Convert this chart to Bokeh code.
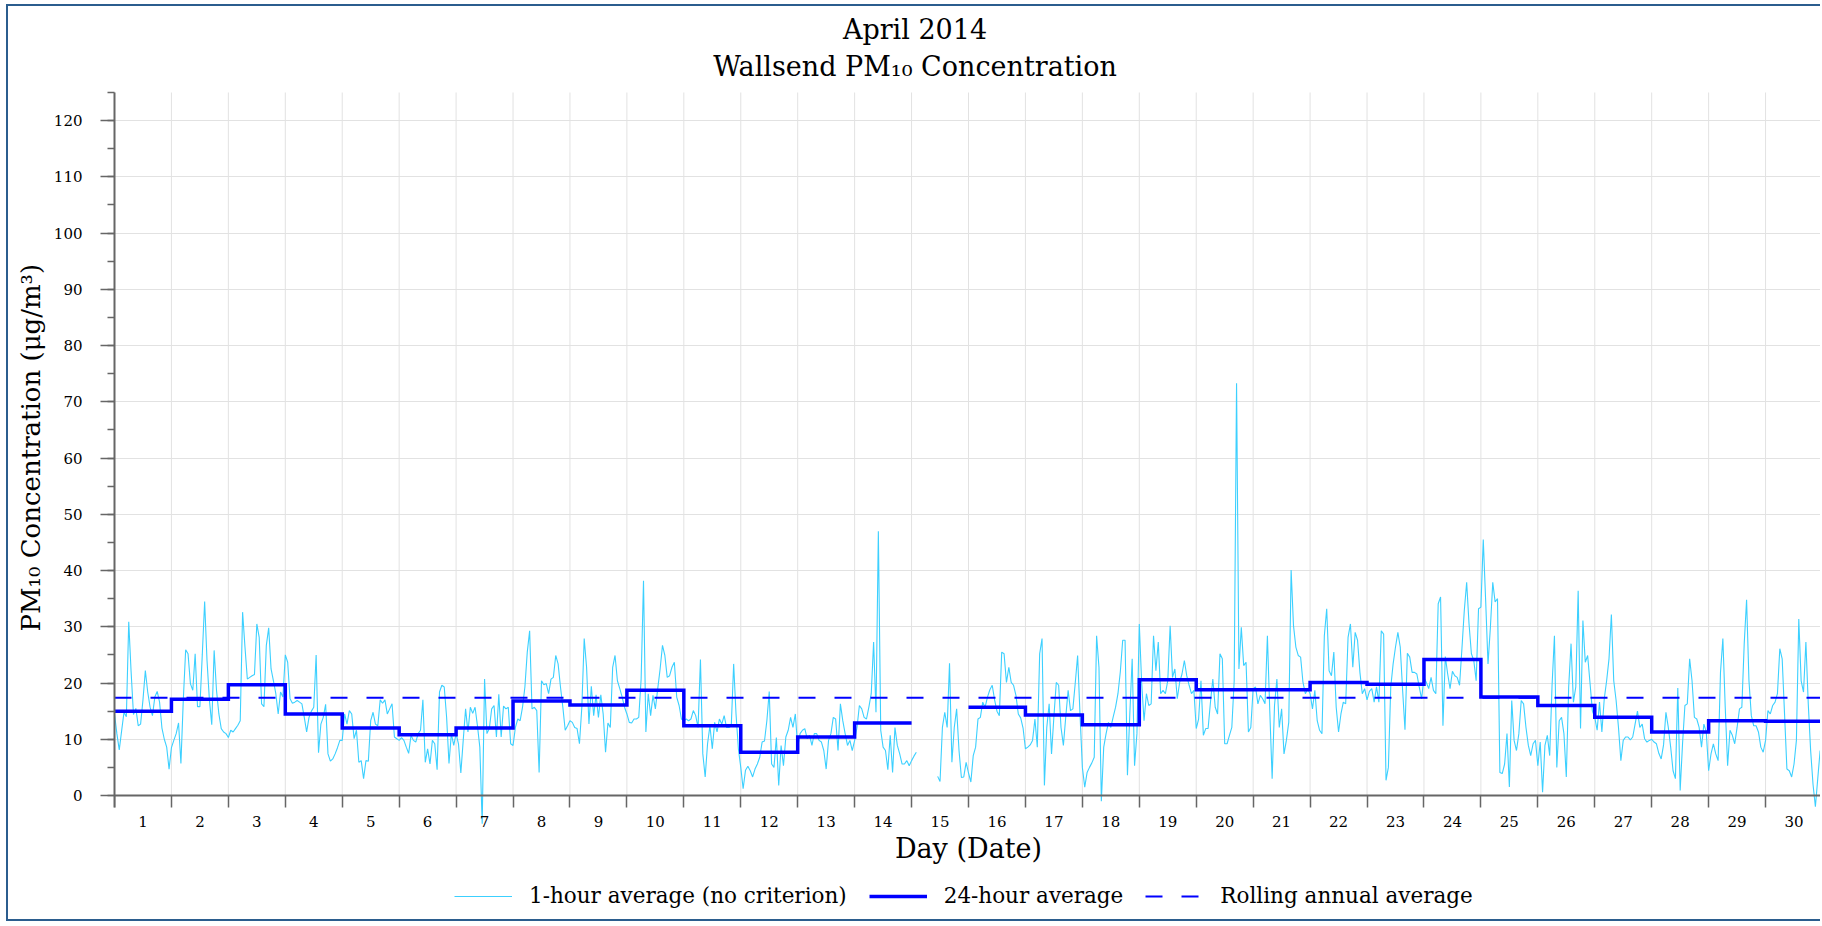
import numpy as np
from bokeh.plotting import figure
from bokeh.models import (ColumnDataSource, FixedTicker, SingleIntervalTicker, Range1d,
                          Title, Legend, LegendItem, CustomJSTickFormatter, LinearAxis, Label)
from bokeh.embed import file_html
from bokeh.resources import INLINE

NaN = float("nan")

# ---------------- data ----------------
day_labels = [str(d) for d in range(1, 31)]

d01 = [14.5, 11.0, 8.1, 11.5, 14.8, 14.0, 30.9, 22.0, 14.4, 15.5, 12.4, 12.7, 17.0, 22.2, 18.4, 15.7, 14.2, 17.5, 18.5, 16.6, 12.0, 10.0, 8.6, 4.7]
d02 = [8.5, 9.8, 11.0, 12.9, 5.7, 17.0, 25.9, 25.2, 19.9, 18.7, 25.2, 15.8, 15.8, 25.0, 34.5, 24.0, 17.0, 12.6, 25.8, 18.7, 14.5, 11.9, 11.3, 11.0]
d03 = [10.3, 11.6, 11.3, 11.9, 12.5, 13.3, 32.6, 26.4, 20.7, 21.0, 21.3, 21.5, 30.5, 28.1, 16.3, 15.8, 26.7, 29.8, 22.5, 20.4, 18.1, 14.5, 18.4, 17.5]
d04 = [25.0, 23.7, 17.2, 16.4, 16.6, 16.9, 16.6, 16.3, 13.9, 11.3, 13.9, 15.0, 15.7, 25.0, 7.6, 12.7, 13.9, 16.2, 7.4, 6.1, 6.5, 7.4, 8.5, 9.8]
d05 = [9.8, 14.5, 12.7, 15.1, 14.5, 10.1, 11.6, 5.9, 6.2, 3.0, 6.2, 6.1, 13.3, 14.8, 12.7, 12.4, 17.0, 16.4, 17.0, 14.5, 15.4, 16.3, 10.4, 10.1]
d06 = [9.8, 10.3, 9.8, 8.6, 7.5, 10.7, 9.8, 9.5, 11.0, 11.6, 17.0, 5.9, 8.3, 5.6, 9.8, 9.2, 4.6, 18.4, 19.6, 19.3, 13.9, 5.7, 11.0, 8.9]
d07 = [11.0, 9.2, 4.0, 9.8, 15.4, 11.3, 15.7, 14.6, 15.7, 12.4, 8.6, -5.0, 20.7, 11.0, 11.9, 15.4, 16.0, 10.4, 18.0, 10.4, 15.9, 15.4, 15.7, 9.2]
d08 = [8.9, 12.1, 13.6, 13.3, 15.7, 19.3, 25.5, 29.3, 15.4, 15.7, 15.1, 4.1, 20.4, 19.7, 19.9, 18.1, 20.7, 21.0, 24.9, 23.4, 19.3, 15.7, 11.6, 12.4]
d09 = [13.3, 13.0, 12.1, 11.9, 9.2, 15.7, 27.9, 22.8, 12.7, 19.4, 14.2, 17.9, 13.9, 17.9, 14.5, 7.7, 12.9, 12.1, 22.8, 24.9, 20.4, 19.0, 17.5, 15.7]
d10 = [14.5, 13.0, 12.9, 13.6, 13.6, 13.9, 20.7, 38.2, 11.3, 18.1, 14.2, 17.8, 15.4, 19.0, 22.5, 26.7, 24.9, 21.0, 21.3, 22.8, 23.7, 17.5, 16.0, 13.6]
d11 = [13.3, 13.6, 13.3, 13.6, 15.1, 14.2, 12.1, 24.2, 7.4, 3.3, 9.2, 12.4, 8.3, 13.0, 11.3, 13.6, 12.7, 14.2, 12.1, 12.1, 12.4, 23.4, 14.5, 8.3]
d12 = [5.0, 1.2, 4.5, 5.2, 4.4, 3.3, 4.7, 5.6, 6.8, 9.5, 9.7, 13.3, 18.5, 5.6, 5.0, 10.3, 1.8, 8.9, 5.3, 10.4, 11.6, 13.9, 12.1, 14.5]
d13 = [8.6, 11.0, 11.6, 11.9, 10.1, 10.7, 8.9, 11.0, 11.0, 9.8, 9.5, 8.0, 4.7, 9.8, 11.0, 13.9, 13.6, 8.0, 16.3, 13.3, 11.0, 8.9, 9.8, 8.0]
d14 = [9.8, 12.1, 16.0, 15.4, 13.9, 13.6, 15.7, 18.1, 27.3, 14.8, 47.0, 11.6, 8.6, 8.0, 4.6, 10.7, 4.1, 12.1, 8.9, 7.4, 5.6, 5.6, 6.2, 5.3]
d15 = [6.2, 7.0, 7.7, NaN, NaN, NaN, NaN, NaN, NaN, NaN, NaN, 3.4, 2.5, 12.1, 14.8, 12.1, 23.5, 5.9, 12.1, 15.4, 8.0, 3.2, 3.3, 5.9]
d16 = [4.0, 2.4, 7.1, 8.6, 13.6, 13.9, 16.6, 15.7, 17.5, 18.8, 19.6, 17.0, 15.0, 14.2, 25.5, 25.2, 20.1, 22.8, 20.1, 19.6, 17.8, 14.5, 13.8, 12.0]
d17 = [8.3, 8.6, 9.0, 9.8, 13.6, 8.6, 25.2, 27.9, 1.8, 12.1, 16.3, 7.4, 14.0, 20.1, 19.6, 12.1, 8.9, 14.0, 18.7, 15.1, 15.4, 20.0, 24.9, 14.5]
d18 = [5.0, 1.5, 4.1, 5.0, 5.8, 6.8, 28.4, 22.8, -1.0, 8.6, 11.0, 13.0, 12.1, 14.0, 15.7, 18.1, 22.0, 27.6, 27.6, 3.6, 14.5, 24.3, 5.3, 11.0]
d19 = [30.5, 20.0, 13.3, 18.1, 16.0, 16.3, 28.4, 22.2, 27.3, 18.1, 18.7, 18.1, 20.4, 30.2, 21.0, 22.5, 17.2, 20.1, 21.6, 24.0, 21.3, 19.6, 18.1, 18.7]
d20 = [11.9, 13.6, 20.4, 10.7, 11.9, 11.9, 16.6, 20.7, 15.7, 14.5, 25.2, 24.3, 9.2, 9.2, 10.7, 12.1, 20.4, 73.3, 22.5, 29.9, 23.1, 23.7, 11.3, 12.1]
d21 = [19.0, 19.3, 16.3, 17.8, 17.2, 16.3, 28.4, 15.1, 3.0, 16.0, 20.7, 12.1, 15.4, 7.4, 9.8, 13.0, 40.1, 30.2, 26.4, 24.9, 24.6, 20.1, 18.1, 19.0]
d22 = [18.1, 15.4, 18.7, 13.3, 11.6, 11.0, 28.4, 33.2, 22.2, 21.3, 25.5, 15.7, 11.3, 14.5, 16.6, 16.3, 28.1, 30.5, 22.8, 29.0, 27.6, 21.9, 18.1, 19.0]
d23 = [17.0, 18.5, 19.0, 16.6, 19.3, 16.6, 29.3, 28.7, 2.7, 5.0, 19.3, 23.4, 26.4, 29.0, 26.4, 18.7, 11.7, 25.3, 24.6, 21.9, 21.9, 21.6, 19.3, 17.2]
d24 = [21.0, 20.1, 19.0, 21.0, 18.7, 18.1, 34.1, 35.3, 12.4, 24.7, 21.6, 19.0, 22.1, 21.3, 21.0, 19.6, 26.1, 32.9, 37.9, 30.5, 25.2, 24.0, 20.4, 33.2]
d25 = [33.5, 45.5, 34.7, 23.4, 29.9, 37.9, 34.4, 35.0, 4.1, 3.9, 5.6, 11.0, 1.5, 16.9, 9.8, 8.0, 11.0, 16.9, 16.3, 12.1, 8.9, 7.1, 9.2, 9.8]
d26 = [5.3, 9.5, 0.6, 8.9, 10.7, 7.1, 19.6, 28.4, 5.0, 13.3, 13.9, 11.0, 3.3, 19.3, 27.0, 16.6, 19.3, 36.4, 11.9, 31.1, 23.7, 24.9, 20.0, 15.0]
d27 = [13.9, 11.6, 16.6, 11.3, 17.2, 20.4, 24.3, 32.2, 20.4, 16.9, 12.1, 6.2, 9.8, 10.4, 10.4, 9.9, 10.4, 12.7, 15.0, 12.1, 12.7, 10.1, 9.5, 9.8]
d28 = [10.0, 9.5, 9.2, 7.5, 6.5, 9.0, 14.8, 12.1, 8.6, 4.4, 3.0, 19.1, 0.9, 9.2, 16.0, 16.3, 24.3, 20.4, 13.9, 13.6, 12.1, 8.6, 12.7, 11.3]
d29 = [4.4, 7.4, 9.2, 7.4, 6.2, 21.9, 27.9, 15.7, 5.3, 11.6, 10.7, 9.2, 12.1, 15.4, 15.7, 27.0, 34.8, 20.4, 14.2, 12.4, 12.4, 11.3, 8.6, 7.7]
d30 = [9.8, 15.1, 14.5, 16.0, 16.6, 18.1, 26.1, 24.3, 14.5, 4.7, 4.4, 3.3, 5.6, 9.8, 31.4, 20.4, 18.4, 27.3, 16.3, 8.0, 2.0, -2.0, 3.0, 8.0]

avg24 = [15.0, 17.1, 19.7, 14.5, 12.0, 10.8, 12.0, 16.8, 16.1, 18.7,
         12.4, 7.7, 10.4, 12.9, NaN, 15.7, 14.3, 12.6, 20.6, 18.8,
         18.8, 20.1, 19.8, 24.2, 17.5, 16.0, 13.9, 11.3, 13.3, 13.2]

rolling_annual = 17.4

y_axis_top = 125
y_tick_step = 10

title_line1 = "April 2014"
title_line2 = "Wallsend PM\u2081\u2080 Concentration"
y_title = "PM\u2081\u2080 Concentration (\u03bcg/m\u00b3)"
x_title = "Day (Date)"

# ---------------- build sources ----------------
days = [d01, d02, d03, d04, d05, d06, d07, d08, d09, d10, d11, d12, d13, d14, d15,
        d16, d17, d18, d19, d20, d21, d22, d23, d24, d25, d26, d27, d28, d29, d30]
n_days = len(day_labels)
hx, hy = [], []
for di, vals in enumerate(days):
    for h, v in enumerate(vals):
        hx.append(di + h / 24.0)
        hy.append(v)
hourly_src = ColumnDataSource(dict(x=hx, y=hy))

sx, sy = [], []
for di, v in enumerate(avg24):
    sx += [di, di + 1]
    sy += [v, v]
step_src = ColumnDataSource(dict(x=sx, y=sy))

roll_src = ColumnDataSource(dict(x=[0, n_days], y=[rolling_annual, rolling_annual]))

vgrid_src = ColumnDataSource(dict(x=list(range(n_days + 1)),
                                  y0=[0] * (n_days + 1),
                                  y1=[y_axis_top] * (n_days + 1)))

# ---------------- layout (pixels, content box starts at page (8, 6)) ----------------
FONT = "DejaVu Serif"
AXIS_COLOR = "#666666"
GRID_COLOR = "#e2e2e2"
BORDER = "2px solid #2b5d8e"

W, H = 1814, 917
LEFT, BOTTOM = 105, 4
frame_bottom = H - BOTTOM     # frame spans the full content height above this
top_px = 86                   # where y = 125 sits
zero_px = 789                 # where y = 0 sits
ppu = (zero_px - top_px) / y_axis_top
y_end = y_axis_top + top_px / ppu
y_start = -(frame_bottom - zero_px) / ppu


def y_at(px):
    return y_end - px / ppu


frame_w = W - LEFT
title_cx = (906 - LEFT) * n_days / frame_w   # title centred on the whole chart

p = figure(width=W, height=H, title=None,
           x_range=Range1d(0, n_days), y_range=Range1d(y_start, y_end),
           x_axis_location=None,
           output_backend="svg", toolbar_location=None,
           min_border_left=LEFT, min_border_right=0, min_border_top=0,
           min_border_bottom=BOTTOM)
p.styles = {"margin-left": "6px", "margin-top": "4px",
            "border-left": BORDER, "border-top": BORDER, "border-bottom": BORDER}
p.outline_line_color = None
p.background_fill_color = "white"
p.border_fill_color = "white"

for txt, base_px in ((title_line1, 23), (title_line2, 60)):
    p.add_layout(Label(x=title_cx, y=y_at(base_px), text=txt,
                       text_align="center", text_baseline="alphabetic",
                       text_font=FONT, text_font_size="27px", text_color="black"))

# vertical grid lines at day boundaries (0 .. top of axis only)
p.segment(x0="x", y0="y0", x1="x", y1="y1", source=vgrid_src,
          line_color=GRID_COLOR, line_width=1, level="underlay")

r_hour = p.line("x", "y", source=hourly_src, line_color="#3cd0ff", line_width=1.1)
r_roll = p.line("x", "y", source=roll_src, line_color="#0000ff", line_width=2,
                line_dash="17 19")
r_avg = p.line("x", "y", source=step_src, line_color="#0000ff", line_width=3.5,
               line_join="miter")

# x axis fixed at y = 0: labels centred in each day, ticks at day boundaries
xax = LinearAxis(fixed_location=0)
p.add_layout(xax, "below")
xax.ticker = FixedTicker(ticks=[i + 0.5 for i in range(n_days)],
                         minor_ticks=list(range(n_days + 1)))
xax.formatter = CustomJSTickFormatter(args=dict(labels=day_labels),
                                      code="return labels[Math.round(tick - 0.5)]")
xax.major_tick_out = 0
xax.major_tick_in = 0
xax.minor_tick_out = 12
xax.minor_tick_in = 0
xax.major_label_standoff = 8
xax.axis_label = x_title
xax.axis_label_standoff = 3

yax = p.yaxis[0]
yax.bounds = (-12 / ppu, y_axis_top)
yax.ticker = SingleIntervalTicker(interval=y_tick_step, num_minor_ticks=2)
yax.major_tick_out = 14
yax.major_tick_in = 0
yax.minor_tick_out = 7
yax.minor_tick_in = 0
yax.major_label_standoff = 18

for ax in (xax, yax):
    ax.axis_line_color = AXIS_COLOR
    ax.axis_line_width = 2
    ax.major_tick_line_color = AXIS_COLOR
    ax.minor_tick_line_color = AXIS_COLOR
    ax.major_tick_line_width = 1.5
    ax.minor_tick_line_width = 1.5
    ax.major_label_text_font = FONT
    ax.major_label_text_font_size = "15px"
    ax.major_label_text_color = "black"
    ax.axis_label_text_font = FONT
    ax.axis_label_text_font_style = "normal"
    ax.axis_label_text_color = "black"
xax.axis_label_text_font_size = "27px"

# y-axis title, placed along the 0..125 part of the axis
p.add_layout(Title(text=y_title, align="left", offset=frame_bottom - 625,
                   text_font=FONT, text_font_size="26px", text_font_style="normal",
                   text_color="black", standoff=10), "left")

p.xgrid.visible = False
p.ygrid.bounds = (0, y_axis_top)
p.ygrid.grid_line_color = GRID_COLOR
p.ygrid.grid_line_width = 1

# legend below the axis, inside the (extended) frame
legend = Legend(items=[
    LegendItem(label="1-hour average (no criterion)", renderers=[r_hour]),
    LegendItem(label="24-hour average", renderers=[r_avg]),
    LegendItem(label="Rolling annual average", renderers=[r_roll]),
], orientation="horizontal", location=(340, 11))
legend.label_text_font = FONT
legend.label_text_font_size = "21.5px"
legend.label_text_color = "black"
legend.glyph_width = 58
legend.glyph_height = 20
legend.label_standoff = 17
legend.spacing = 22
legend.padding = 0
legend.margin = 0
legend.border_line_color = None
legend.background_fill_alpha = 0
p.add_layout(legend)

open("out.html", "w").write(file_html(p, INLINE))
